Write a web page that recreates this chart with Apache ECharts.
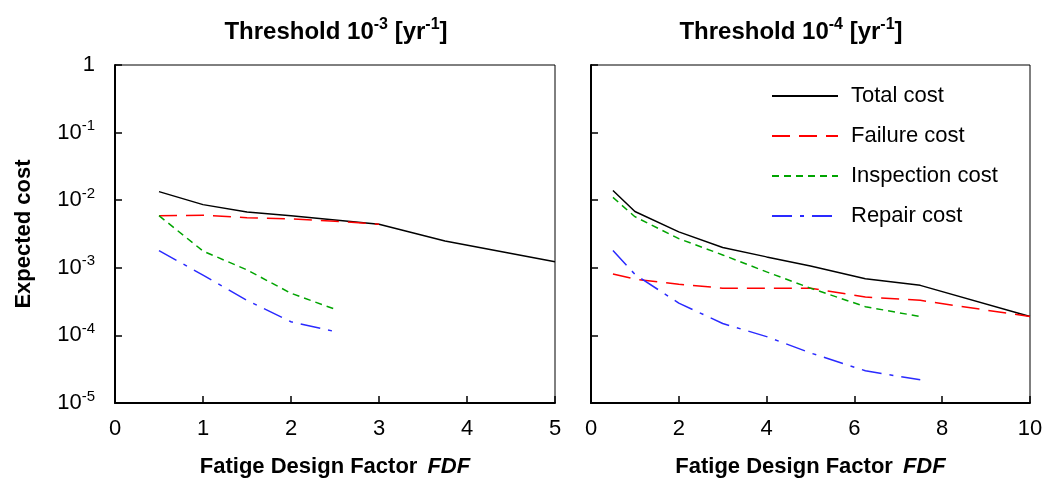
<!DOCTYPE html>
<html>
<head>
<meta charset="utf-8">
<script src="https://cdn.jsdelivr.net/npm/echarts@6/dist/echarts.min.js"></script>
<style>
  html, body { margin: 0; padding: 0; background: #fff; }
  #chart { width: 1047px; height: 482px; }
</style>
</head>
<body>
<div id="chart"></div>
<script>
// left panel: threshold 1e-3
var fdfLeft = [0.5, 1, 1.5, 2, 2.5, 3, 3.75, 5];
var totalLeft = [0.0134, 0.0086, 0.0067, 0.0059, 0.0051, 0.0044, 0.0025, 0.00123];
var failureLeft = [0.0059, 0.006, 0.0055, 0.0053, 0.0049, 0.0044];
var inspectionLeft = [0.0059, 0.00177, 0.00093, 0.00042, 0.000244];
var repairLeft = [0.0018, 0.00078, 0.00033, 0.000159, 0.000114];

// right panel: threshold 1e-4
var fdfRight = [0.5, 1, 2, 3, 4, 5, 6.25, 7.5, 10];
var totalRight = [0.0139, 0.0068, 0.0034, 0.002, 0.00145, 0.00106, 0.00069, 0.00055, 0.00019];
var failureRight = [0.00081, 0.00068, 0.00057, 0.0005, 0.0005, 0.0005, 0.00037, 0.00033, 0.00019];
var inspectionRight = [0.011, 0.0057, 0.0027, 0.00155, 0.00087, 0.0005, 0.000266, 0.00019];
var repairRight = [0.0018, 0.0008, 0.0003, 0.00015, 0.000096, 0.000055, 0.00003, 0.000022];

var seriesNames = ["Total cost", "Failure cost", "Inspection cost", "Repair cost"];

var font = "'Liberation Sans', Arial, sans-serif";
var narrow = "'Liberation Sans Narrow', 'Liberation Sans', Arial, sans-serif";

var styles = [
  { color: "#000000", type: "solid" },
  { color: "#ff0000", type: [18, 9] },
  { color: "#00a400", type: [7, 5] },
  { color: "#2a2aff", type: [20, 8, 4, 8] }
];

function pairs(xs, ys) {
  return ys.map(function (y, i) { return [xs[i], y]; });
}

function yLabel(v) {
  if (v >= 1) return "{b|1}";
  var e = Math.round(Math.log10(v));
  return "{b|10}{s|" + e + "}";
}

var supRich = {
  b: { fontSize: 22, fontFamily: font, color: "#000", lineHeight: 28 },
  s: { fontSize: 15, fontFamily: font, color: "#000", lineHeight: 14, verticalAlign: "top" }
};

function makeSeries(name, idx, axis, xs, ys) {
  return {
    name: name,
    type: "line",
    xAxisIndex: axis,
    yAxisIndex: axis,
    symbol: "none",
    silent: true,
    lineStyle: { color: styles[idx].color, width: 1.5, type: styles[idx].type },
    itemStyle: { color: styles[idx].color },
    data: pairs(xs, ys)
  };
}

function xAxis(idx, max, interval) {
  return {
    type: "value",
    gridIndex: idx,
    min: 0,
    max: max,
    interval: interval,
    name: "{n|Fatige Design Factor}   {i|FDF}",
    nameLocation: "middle",
    nameGap: 53,
    nameTextStyle: {
      rich: {
        n: { fontSize: 22, fontWeight: "bold", fontFamily: font, color: "#000" },
        i: { fontSize: 22, fontWeight: "bold", fontStyle: "italic", fontFamily: font, color: "#000" }
      }
    },
    axisLine: { onZero: false, lineStyle: { color: "#000", width: 2 } },
    axisTick: { inside: true, length: 7, lineStyle: { color: "#000", width: 1.5 } },
    axisLabel: { fontSize: 22, fontFamily: font, color: "#000", margin: 15 },
    splitLine: { show: false }
  };
}

function yAxis(idx, showLabels) {
  return {
    type: "log",
    gridIndex: idx,
    logBase: 10,
    min: 0.00001,
    max: 1,
    name: showLabels ? "Expected cost" : "",
    nameLocation: "middle",
    nameGap: 80,
    nameTextStyle: { fontSize: 22, fontWeight: "bold", fontFamily: font, color: "#000" },
    axisLine: { lineStyle: { color: "#000", width: 2 } },
    axisTick: { inside: true, length: 7, lineStyle: { color: "#000", width: 1.5 } },
    axisLabel: {
      show: showLabels,
      margin: 20,
      formatter: yLabel,
      rich: supRich
    },
    minorTick: { show: false },
    splitLine: { show: false }
  };
}

var titleRich = {
  t: { fontSize: 24, fontWeight: "bold", fontFamily: narrow, color: "#000", lineHeight: 30 },
  s: { fontSize: 16, fontWeight: "bold", fontFamily: narrow, color: "#000", lineHeight: 16, verticalAlign: "top" }
};

var chart = echarts.init(document.getElementById("chart"), null, { renderer: "canvas" });
chart.setOption({
  animation: false,
  backgroundColor: "#fff",
  title: [
    { text: "{t|Threshold 10}{s|-3}{t| [yr}{s|-1}{t|]}", left: 331, top: 12, textAlign: "center",
      textStyle: { rich: titleRich } },
    { text: "{t|Threshold 10}{s|-4}{t| [yr}{s|-1}{t|]}", left: 786, top: 12, textAlign: "center",
      textStyle: { rich: titleRich } }
  ],
  grid: [
    { left: 115, top: 65, width: 440, height: 338, outerBoundsMode: "none", show: true,
      borderColor: "#000", borderWidth: 1, backgroundColor: "transparent" },
    { left: 591, top: 65, width: 439, height: 338, outerBoundsMode: "none", show: true,
      borderColor: "#000", borderWidth: 1, backgroundColor: "transparent" }
  ],
  legend: {
    data: seriesNames,
    orient: "vertical",
    left: 766,
    top: 80,
    itemWidth: 66,
    itemHeight: 20,
    itemGap: 18,
    selectedMode: false,
    itemStyle: { color: "transparent", borderWidth: 0 },
    textStyle: { fontSize: 22, fontFamily: font, color: "#000", padding: [0, 0, 0, 8] }
  },
  xAxis: [xAxis(0, 5, 1), xAxis(1, 10, 2)],
  yAxis: [yAxis(0, true), yAxis(1, false)],
  series: [
    makeSeries(seriesNames[0], 0, 0, fdfLeft, totalLeft),
    makeSeries(seriesNames[1], 1, 0, fdfLeft, failureLeft),
    makeSeries(seriesNames[2], 2, 0, fdfLeft, inspectionLeft),
    makeSeries(seriesNames[3], 3, 0, fdfLeft, repairLeft),
    makeSeries(seriesNames[0], 0, 1, fdfRight, totalRight),
    makeSeries(seriesNames[1], 1, 1, fdfRight, failureRight),
    makeSeries(seriesNames[2], 2, 1, fdfRight, inspectionRight),
    makeSeries(seriesNames[3], 3, 1, fdfRight, repairRight)
  ]
});
</script>
</body>
</html>
